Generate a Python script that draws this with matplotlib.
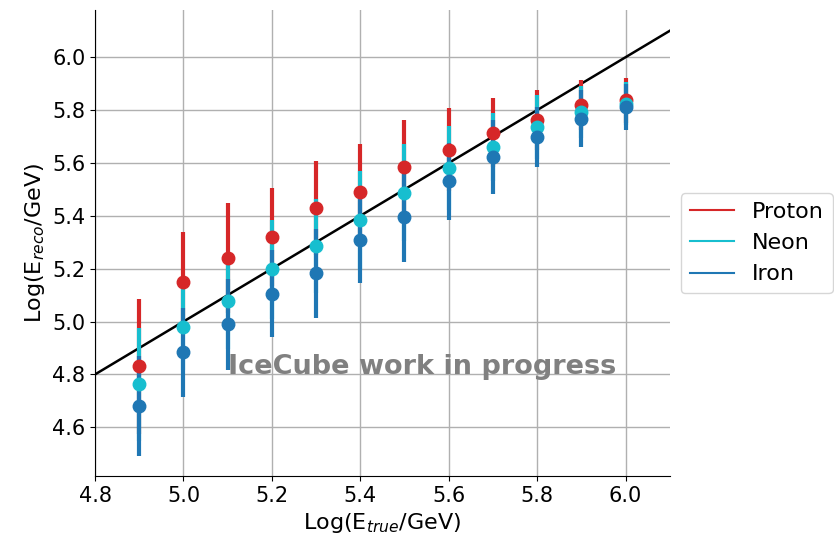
import numpy as np
import matplotlib.pyplot as plt
from matplotlib.lines import Line2D

# true energy bins (log10 GeV)
log_e_true = [4.9, 5.0, 5.1, 5.2, 5.3, 5.4, 5.5, 5.6, 5.7, 5.8, 5.9, 6.0]

# mean reconstructed energy and spread per primary
proton_mean = [4.83, 5.15, 5.24, 5.32, 5.43, 5.49, 5.585, 5.65, 5.715, 5.764, 5.818, 5.837]
proton_err = [0.257, 0.19, 0.209, 0.187, 0.179, 0.18, 0.177, 0.157, 0.131, 0.114, 0.095, 0.085]

neon_mean = [4.762, 4.98, 5.078, 5.198, 5.286, 5.383, 5.488, 5.581, 5.661, 5.736, 5.793, 5.825]
neon_err = [0.215, 0.164, 0.182, 0.188, 0.177, 0.186, 0.182, 0.158, 0.128, 0.12, 0.10, 0.082]

iron_mean = [4.681, 4.883, 4.989, 5.106, 5.182, 5.31, 5.396, 5.531, 5.621, 5.698, 5.768, 5.812]
iron_err = [0.19, 0.17, 0.173, 0.165, 0.167, 0.165, 0.17, 0.145, 0.14, 0.115, 0.107, 0.086]

primaries = ['Proton', 'Neon', 'Iron']
colors = ['tab:red', 'tab:cyan', 'tab:blue']

fig = plt.figure(figsize=(8.34, 5.38), dpi=100)
ax = fig.add_axes([0.114, 0.115, 0.689, 0.866])

# diagonal E_reco = E_true
diag = np.array([4.8, 6.1])
ax.plot(diag, diag, color='black', lw=1.8, zorder=2)

for mean, err, c in zip([proton_mean, neon_mean, iron_mean],
                        [proton_err, neon_err, iron_err], colors):
    ax.errorbar(log_e_true, mean, yerr=err, fmt='o', color=c,
                ms=9, elinewidth=3, capsize=0, zorder=3)

ax.text(5.1, 4.8, 'IceCube work in progress', color='gray',
        fontsize=19.5, fontweight='bold', ha='left', va='baseline', zorder=4)

ax.set_xlim(4.8, 6.1)
ax.set_ylim(4.415, 6.178)
ax.set_xticks(np.arange(4.8, 6.01, 0.2))
ax.set_yticks(np.arange(4.6, 6.01, 0.2))
ax.tick_params(labelsize=15)
ax.grid(True, color='#b0b0b0', lw=1)
ax.set_axisbelow(True)
ax.spines['top'].set_visible(False)
ax.spines['right'].set_visible(False)

ax.set_xlabel(r'Log(E$_{true}$/GeV)', fontsize=16)
ax.set_ylabel(r'Log(E$_{reco}$/GeV)', fontsize=16)

handles = [Line2D([0], [0], color=c, lw=1.5) for c in colors]
ax.legend(handles, primaries, loc='center left', bbox_to_anchor=(1.0, 0.5),
          fontsize=16)

fig.savefig('out.png', dpi=100)
